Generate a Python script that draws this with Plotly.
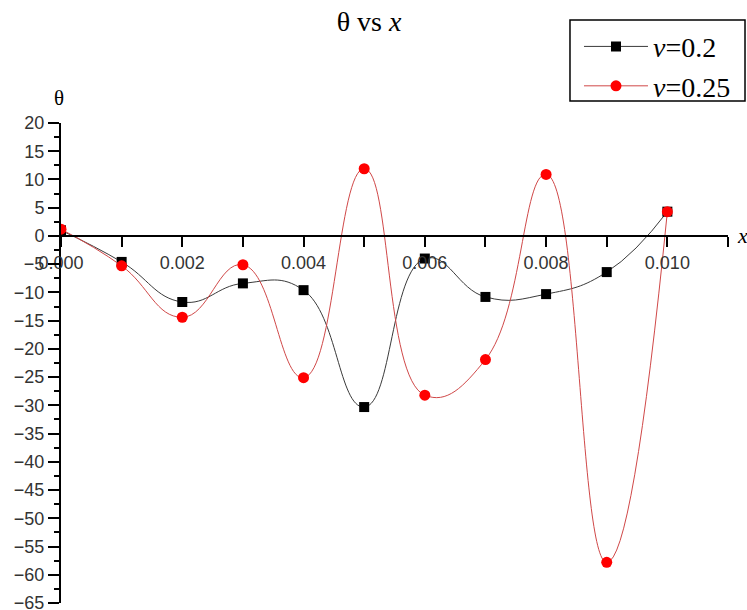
import plotly.graph_objects as go

# ---- data ----
x_vals = [0.000, 0.001, 0.002, 0.003, 0.004, 0.005, 0.006, 0.007, 0.008, 0.009, 0.010]
theta_v020 = [1.0, -4.6, -11.7, -8.4, -9.6, -30.3, -4.0, -10.8, -10.3, -6.4, 4.3]
theta_v025 = [1.2, -5.3, -14.4, -5.1, -25.1, 11.9, -28.2, -21.9, 10.9, -57.8, 4.3]
series_names = ["<i>v</i>=0.2", "<i>v</i>=0.25"]
x_tick_vals = [0.000, 0.002, 0.004, 0.006, 0.008, 0.010]
x_tick_text = ["0.000", "0.002", "0.004", "0.006", "0.008", "0.010"]
y_range = [-65, 20]
x_range = [0, 0.011]

SERIF = "Liberation Serif, Times New Roman, serif"
SANS = "Liberation Sans, Arial, sans-serif"

fig = go.Figure()
fig.add_trace(go.Scatter(
    x=x_vals, y=theta_v020, name=series_names[0], mode="lines+markers",
    line=dict(color="#3a3a3a", width=1, shape="spline", smoothing=1.3),
    marker=dict(symbol="square", size=10, color="black"),
))
fig.add_trace(go.Scatter(
    x=x_vals, y=theta_v025, name=series_names[1], mode="lines+markers",
    line=dict(color="#d04848", width=1, shape="spline", smoothing=1.3),
    marker=dict(symbol="circle", size=11, color="#ff0000"),
))

x_axis_pos = (0 - y_range[0]) / (y_range[1] - y_range[0])

fig.update_layout(
    width=747, height=610,
    margin=dict(l=61, r=19, t=123, b=7, autoexpand=False),
    paper_bgcolor="white", plot_bgcolor="white",
    title=dict(text="θ vs <i>x</i>", font=dict(family=SERIF, size=28, color="black"),
               x=0.494, xref="container", xanchor="center",
               y=0.965, yref="container", yanchor="middle"),
    showlegend=True,
    legend=dict(x=0.7766, y=1.211, xanchor="left", yanchor="top",
                borderwidth=0, bgcolor="rgba(0,0,0,0)",
                font=dict(family=SERIF, size=28, color="black"),
                itemwidth=64, tracegroupgap=0),
    xaxis=dict(range=x_range, anchor="free", position=x_axis_pos,
               showline=True, linecolor="black", linewidth=2,
               ticks="outside", ticklen=10, tickwidth=2, tickcolor="black",
               tickvals=x_tick_vals, ticktext=x_tick_text,
               minor=dict(dtick=0.001, ticks="outside", ticklen=10, tickwidth=2, tickcolor="black"),
               showgrid=False, zeroline=False,
               tickfont=dict(family=SANS, size=18, color="#333")),
    yaxis=dict(range=y_range, domain=[0, 1],
               showline=True, linecolor="black", linewidth=2,
               ticks="outside", ticklen=11, tickwidth=2, tickcolor="black",
               dtick=5, tick0=0, ticklabeloverflow="allow",
               minor=dict(dtick=2.5, ticks="outside", ticklen=5, tickwidth=2, tickcolor="black"),
               showgrid=False, zeroline=False,
               tickfont=dict(family=SANS, size=18, color="#333")),
)

# legend frame
fig.add_shape(type="rect", xref="paper", yref="paper",
              x0=0.7631, x1=1.0255, y0=1.0458, y1=1.2146,
              line=dict(color="black", width=1.5), fillcolor="rgba(0,0,0,0)")

fig.add_annotation(text="θ", xref="paper", yref="paper", x=-0.003, y=1.052,
                   xanchor="center", yanchor="middle", showarrow=False,
                   font=dict(family=SERIF, size=21, color="black"))
fig.add_annotation(text="<i>x</i>", xref="paper", yref="y", x=1.0, y=0,
                   xanchor="left", yanchor="middle", xshift=7, showarrow=False,
                   font=dict(family=SERIF, size=22, color="black"))

fig.write_html(
    "out.html",
    config={"displayModeBar": False},
    post_script="document.body.style.margin='0';document.documentElement.style.overflow='hidden';",
)
